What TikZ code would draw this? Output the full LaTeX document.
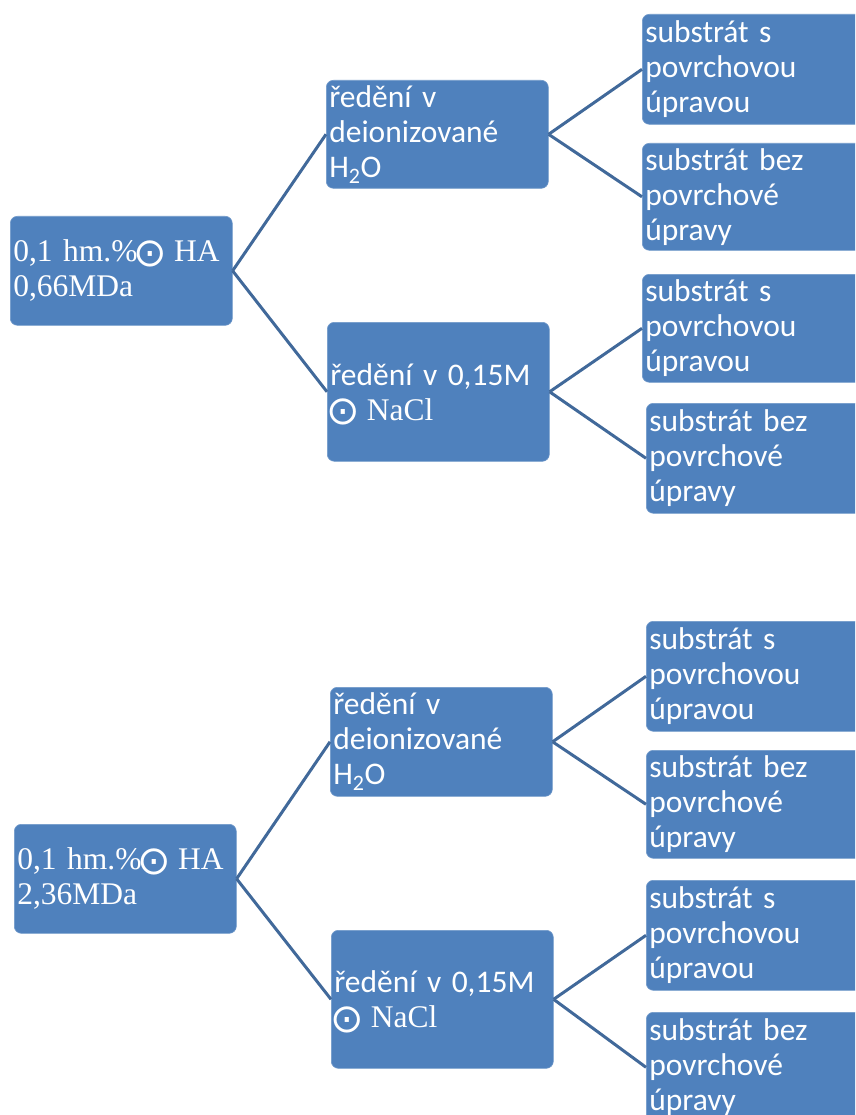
\documentclass[tikz,border=0pt]{standalone}
\usepackage{fontspec}
\setmainfont{Liberation Serif}
\newfontfamily\sansfnt{Carlito}
\newfontfamily\symfnt{DejaVu Sans}
\definecolor{boxblue}{HTML}{4F81BD}
\definecolor{lineblue}{HTML}{41699A}
\newcommand{\odotsym}{\makebox[26pt]{\smash{\raisebox{-4.5pt}{\symfnt\fontsize{40}{35}\selectfont ⊙}}}}
\begin{document}
\begin{tikzpicture}[x=1pt,y=-1pt,
  boxnode/.style={rectangle, rounded corners=7pt, fill=boxblue, draw=boxblue!80!white, line width=0.6pt,
    text=white, anchor=north west, inner sep=0pt, align=left,
    font=\sansfnt\fontsize{31.5}{35}\selectfont},
  rootbox/.style={boxnode, minimum width=222pt, minimum height=109pt, text width=216pt,
    font=\fontsize{31.5}{35}\selectfont},
  midbox/.style={boxnode, minimum width=222pt, text width=216pt},
  leafbox/.style={boxnode, minimum width=250pt, text width=244pt},
  conn/.style={draw=lineblue, line width=3pt}]
\useasboundingbox (0,0) rectangle (855,1115);
\clip (0,0) rectangle (855,1115);
% top group
\node[rootbox] (r1) at (10,216) {\mbox{0,1 hm.\%\odotsym\ HA}\\0,66MDa};
\node[midbox, minimum height=108pt] (m1a) at (326,80) {ředění v\\deionizované\\H\textsubscript{2}O};
\node[midbox, minimum height=139pt] (m1b) at (327,322) {ředění v 0,15M\\{\rmfamily\fontsize{31.5}{35}\selectfont\odotsym\ NaCl}};
\node[leafbox, minimum height=110pt] (l1) at (642,14) {substrát s\\povrchovou\\úpravou};
\node[leafbox, minimum height=107pt] (l2) at (642,143) {substrát bez\\povrchové\\úpravy};
\node[leafbox, minimum height=108pt] (l3) at (642,274) {substrát s\\povrchovou\\úpravou};
\node[leafbox, minimum height=110pt] (l4) at (646,403) {substrát bez\\povrchové\\úpravy};
% bottom group
\node[rootbox] (r2) at (14,824) {\mbox{0,1 hm.\%\odotsym\ HA}\\2,36MDa};
\node[midbox, minimum height=109pt] (m2a) at (330,687) {ředění v\\deionizované\\H\textsubscript{2}O};
\node[midbox, minimum height=138pt] (m2b) at (331,930) {ředění v 0,15M\\{\rmfamily\fontsize{31.5}{35}\selectfont\odotsym\ NaCl}};
\node[leafbox, minimum height=110pt] (l5) at (646,621) {substrát s\\povrchovou\\úpravou};
\node[leafbox, minimum height=108pt] (l6) at (646,750) {substrát bez\\povrchové\\úpravy};
\node[leafbox, minimum height=110pt] (l7) at (646,880) {substrát s\\povrchovou\\úpravou};
\node[leafbox, minimum height=110pt] (l8) at (646,1012) {substrát bez\\povrchové\\úpravy};
% connectors
\draw[conn] (r1.east) -- (m1a.west);
\draw[conn] (r1.east) -- (m1b.west);
\draw[conn] (m1a.east) -- (l1.west);
\draw[conn] (m1a.east) -- (l2.west);
\draw[conn] (m1b.east) -- (l3.west);
\draw[conn] (m1b.east) -- (l4.west);
\draw[conn] (r2.east) -- (m2a.west);
\draw[conn] (r2.east) -- (m2b.west);
\draw[conn] (m2a.east) -- (l5.west);
\draw[conn] (m2a.east) -- (l6.west);
\draw[conn] (m2b.east) -- (l7.west);
\draw[conn] (m2b.east) -- (l8.west);
\end{tikzpicture}
\end{document}
